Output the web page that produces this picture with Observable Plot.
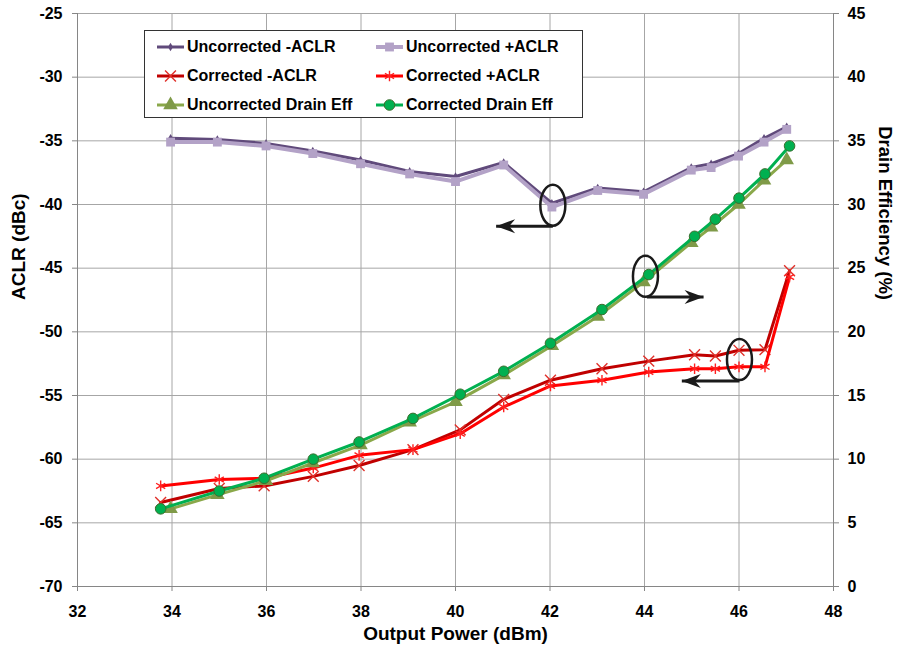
<!DOCTYPE html>
<html><head><meta charset="utf-8">
<script src="https://cdn.jsdelivr.net/npm/d3@7"></script>
<script src="https://cdn.jsdelivr.net/npm/@observablehq/plot@0.6"></script>
<style>
body{margin:0;background:#fff;font-family:"Liberation Sans",Arial,sans-serif;}
#wrap{position:relative;width:897px;height:654px;overflow:hidden;}
#legend{position:absolute;left:144px;top:30px;width:439px;height:88px;border:1px solid #333;background:#fff;box-sizing:border-box;}
.item{position:absolute;height:20px;display:flex;align-items:center;font-weight:bold;font-size:16px;color:#000;white-space:nowrap;}
.item svg{margin-right:2px;}
</style></head><body>
<div id="wrap"><div id="chart"></div><div id="legend"></div></div>
<script>
// ---- data ----
const seriesNames = ["Uncorrected -ACLR","Uncorrected +ACLR","Corrected -ACLR","Corrected +ACLR","Uncorrected Drain Eff","Corrected Drain Eff"];
const powerUnc = [33.97,34.96,35.99,36.98,37.99,39.03,40.0,41.02,42.04,43.01,43.98,44.99,45.41,45.99,46.53,47.01];
const powerCor = [33.76,35.0,35.95,36.99,37.96,39.1,40.1,41.02,42.01,43.1,44.09,45.06,45.5,46.0,46.55,47.07];
const uncNegAclr = [-34.8,-34.9,-35.2,-35.8,-36.5,-37.4,-37.8,-36.7,-39.9,-38.7,-39.0,-37.1,-36.8,-36.0,-34.8,-33.9];
const uncPosAclr = [-35.1,-35.1,-35.4,-36.0,-36.8,-37.6,-38.2,-36.9,-40.2,-38.9,-39.2,-37.3,-37.1,-36.2,-35.1,-34.1];
const corNegAclr = [-63.4,-62.3,-62.1,-61.35,-60.5,-59.25,-57.7,-55.3,-53.8,-52.9,-52.3,-51.8,-51.9,-51.45,-51.4,-45.2];
const corPosAclr = [-62.1,-61.6,-61.5,-60.7,-59.7,-59.25,-58.0,-55.9,-54.25,-53.8,-53.15,-52.9,-52.9,-52.75,-52.75,-45.7];
const uncEff = [6.1,7.2,8.3,9.7,11.1,12.9,14.5,16.6,18.9,21.2,23.9,27.0,28.2,30.0,31.9,33.5];
const corEff = [6.1,7.5,8.5,10.0,11.35,13.2,15.1,16.9,19.1,21.75,24.5,27.5,28.85,30.5,32.4,34.6];
const xTicks = [32,34,36,38,40,42,44,46,48];
const aclrTicks = [-70,-65,-60,-55,-50,-45,-40,-35,-30,-25];
const effTicks = [0,5,10,15,20,25,30,35,40,45];
// annotation callouts (ellipse centre, arrow from ellipse bottom towards its axis)
const calloutX = [42.06,44.02,46.01];
const calloutY = [-40.06,-45.64,-52.18];
const arrowX1 = [42.06,44.05,46.01];
const arrowX2 = [40.86,45.25,44.79];
const arrowY = [-41.7,-47.26,-53.86];

// ---- styling ----
const EFF_OFFSET = -70; // 0 % on the right axis sits at -70 dBc on the left axis
const GRID = "#a6a6a6", AXIS = "#868686", INK = "#1a1a1a";
const styles = [
  {stroke:"#604a7b", width:3, symbol:"diamond", r:2.6, fill:"#604a7b", mstroke:"none"},
  {stroke:"#b3a2c7", width:4, symbol:"square", r:5, fill:"#b3a2c7", mstroke:"none"},
  {stroke:"#c00000", width:3, symbol:"times", r:5, fill:"none", mstroke:"#e0302a"},
  {stroke:"#ff0000", width:3, symbol:"asterisk", r:5, fill:"none", mstroke:"#ff2020"},
  {stroke:"#8aa84a", width:3, symbol:"triangle", r:5.4, fill:"#7f9a48", mstroke:"none"},
  {stroke:"#00b050", width:3, symbol:"circle", r:5.3, fill:"#00b050", mstroke:"#3b6e2e"}
];

const rows = (xs, ys, off=0) => xs.map((x,i)=>({x, y: ys[i] + off}));
const seriesData = [
  rows(powerUnc, uncNegAclr),
  rows(powerUnc, uncPosAclr),
  rows(powerCor, corNegAclr),
  rows(powerCor, corPosAclr),
  rows(powerUnc, uncEff, EFF_OFFSET),
  rows(powerCor, corEff, EFF_OFFSET)
];

const ellipseSym = {draw(ctx){
  const rx=12.5, ry=20.5, k=0.5523, kx=rx*k, ky=ry*k;
  ctx.moveTo(rx,0);
  ctx.bezierCurveTo(rx,ky,kx,ry,0,ry);
  ctx.bezierCurveTo(-kx,ry,-rx,ky,-rx,0);
  ctx.bezierCurveTo(-rx,-ky,-kx,-ry,0,-ry);
  ctx.bezierCurveTo(kx,-ry,rx,-ky,rx,0);
  ctx.closePath();
}};
const headRight = {draw(ctx){ctx.moveTo(0,0);ctx.lineTo(-19,-7);ctx.lineTo(-13,0);ctx.lineTo(-19,7);ctx.closePath();}};
const headLeft = {draw(ctx){ctx.moveTo(0,0);ctx.lineTo(19,-7);ctx.lineTo(13,0);ctx.lineTo(19,7);ctx.closePath();}};

const callouts = calloutX.map((x,i)=>({x, y: calloutY[i], x1: arrowX1[i], x2: arrowX2[i], ya: arrowY[i]}));

const seriesMarks = seriesData.flatMap((d,i)=>{
  const s = styles[i];
  return [
    Plot.line(d, {x:"x", y:"y", stroke:s.stroke, strokeWidth:s.width}),
    Plot.dot(d, {x:"x", y:"y", symbol:s.symbol, r:s.r, fill:s.fill, stroke:s.mstroke, strokeWidth: s.fill==="none"?1.4:1})
  ];
});

const chart = Plot.plot({
  width: 897, height: 654,
  marginLeft: 77, marginRight: 64, marginTop: 13, marginBottom: 68,
  style: {fontFamily: "'Liberation Sans', Arial, sans-serif", fontSize: "16px", fontWeight: "bold", background: "#fff", color: "#000", overflow: "visible"},
  x: {domain: [32, 48]},
  y: {domain: [-70, -25]},
  marks: [
    Plot.gridX(xTicks, {stroke: GRID, strokeOpacity: 1}),
    Plot.gridY(aclrTicks, {stroke: GRID, strokeOpacity: 1}),
    Plot.ruleX([32, 48], {stroke: AXIS}),
    Plot.ruleY([-70], {stroke: AXIS}),
    Plot.axisX(xTicks, {anchor:"bottom", tickSize: 5, tickPadding: 14, label: null, stroke: AXIS, fill: "#000", tickFormat: d => String(d)}),
    Plot.axisY(aclrTicks, {anchor: "left", tickSize: 5, tickPadding: 10, label: null, stroke: AXIS, fill: "#000", tickFormat: d => String(d)}),
    Plot.axisY(effTicks.map(e => e + EFF_OFFSET), {anchor: "right", tickSize: 5, tickPadding: 9, tickFormat: d => String(Math.round(d - EFF_OFFSET)), label: null, stroke: AXIS, fill: "#000"}),
    Plot.text(["ACLR (dBc)"], {frameAnchor: "left", dx: -59, rotate: -90, fontSize: 19, fontWeight: "bold", fill: "#000"}),
    Plot.text(["Drain Efficiency (%)"], {frameAnchor: "right", dx: 51, rotate: 90, fontSize: 18.5, fontWeight: "bold", fill: "#000"}),
    Plot.text(["Output Power (dBm)"], {frameAnchor: "bottom", dy: 53, fontSize: 19, fontWeight: "bold", fill: "#000"}),
    ...seriesMarks,
    Plot.dot(callouts, {x: "x", y: "y", symbol: ellipseSym, fill: "none", stroke: INK, strokeWidth: 2.5}),
    Plot.link(callouts, {x1: "x1", x2: "x2", y1: "ya", y2: "ya", stroke: INK, strokeWidth: 3}),
    Plot.dot(callouts.filter(d => d.x2 > d.x1), {x: "x2", y: "ya", symbol: headRight, fill: INK, stroke: "none"}),
    Plot.dot(callouts.filter(d => d.x2 < d.x1), {x: "x2", y: "ya", symbol: headLeft, fill: INK, stroke: "none"})
  ]
});
document.getElementById("chart").appendChild(chart);

// ---- legend ----
const legend = d3.select("#legend");
const legendPos = [[11,6],[230,6],[11,35],[230,35],[11,64],[230,64]];
const symMap = {diamond: d3.symbolDiamond, square: d3.symbolSquare, times: d3.symbolTimes, asterisk: d3.symbolAsterisk, triangle: d3.symbolTriangle, circle: d3.symbolCircle};
seriesNames.forEach((name,i)=>{
  const s = styles[i];
  const item = legend.append("div").attr("class","item").style("left", legendPos[i][0]+"px").style("top", legendPos[i][1]+"px");
  const svg = item.append("svg").attr("width", 29).attr("height", 20);
  svg.append("line").attr("x1",1).attr("x2",28).attr("y1",10).attr("y2",10).attr("stroke", s.stroke).attr("stroke-width", s.width);
  svg.append("path").attr("transform","translate(14.5,10)")
    .attr("d", d3.symbol(symMap[s.symbol], Math.PI*s.r*s.r)())
    .attr("fill", s.fill).attr("stroke", s.mstroke).attr("stroke-width", s.fill==="none"?1.4:1);
  item.append("span").text(name);
});
</script>
</body></html>
